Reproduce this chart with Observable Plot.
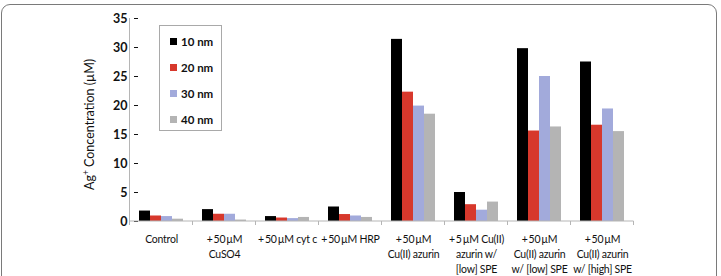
<!DOCTYPE html>
<html>
<head>
<meta charset="utf-8">
<script src="https://cdn.jsdelivr.net/npm/d3@7"></script>
<script src="https://cdn.jsdelivr.net/npm/@observablehq/plot@0.6"></script>
<style>
  html, body { margin: 0; padding: 0; background: #fff; }
  #wrap { position: relative; width: 721px; height: 276px; overflow: hidden; font-family: Lato, "Open Sans", sans-serif; }
  #frame { position: absolute; left: 1px; top: 4px; width: 716px; height: 320px; border: 1.5px solid #7a7a7a; border-radius: 9px; box-sizing: border-box; }
  #chart { position: absolute; left: 0; top: 0; }
  #legend { position: absolute; left: 159px; top: 25px; width: 63px; height: 106px; box-sizing: border-box; border: 1px solid #a9a9a9; background: #fff; }
  .item { position: absolute; left: 10px; font-weight: bold; font-size: 11.5px; color: #111; display: flex; align-items: center; height: 14px; }
  .sw { width: 7px; height: 7px; margin-right: 4px; }
  svg g[aria-label="y-axis tick"] { stroke: #b5b5b5 !important; }
  svg g[aria-label="y-axis tick label"] text, svg g[aria-label="y-axis tick label"] { font-weight: bold !important; font-size: 12.5px !important; fill: #111; }
  svg g[aria-label="text"] text { letter-spacing: -0.25px; }
</style>
</head>
<body>
<div id="wrap">
  <div id="frame"></div>
  <div id="chart"></div>
  <div id="legend"></div>
</div>
<script>
const groups = ["Control", "CuSO4", "cyt c", "HRP", "azurin", "5uM azurin low", "azurin low SPE", "azurin high SPE"];
const groupLabels = [
  "Control",
  "+\u200950\u2009µM\nCuSO4",
  "+\u200950\u2009µM cyt c",
  "+\u200950\u2009µM HRP",
  "+\u200950\u2009µM\nCu(II) azurin",
  "+\u20095\u2009µM Cu(II)\nazurin w/\n[low] SPE",
  "+\u200950\u2009µM\nCu(II) azurin\nw/ [low] SPE",
  "+\u200950\u2009µM\nCu(II) azurin\nw/ [high] SPE"
];
const sizes = ["10 nm", "20 nm", "30 nm", "40 nm"];
const colors = ["#000000", "#d7382c", "#a2aadb", "#b4b4b4"];
const v10 = [1.8, 2.05, 0.85, 2.5, 31.4, 5.0, 29.8, 27.5];
const v20 = [0.95, 1.25, 0.6, 1.2, 22.3, 2.9, 15.6, 16.6];
const v30 = [0.85, 1.25, 0.5, 0.95, 19.9, 1.95, 25.0, 19.4];
const v40 = [0.4, 0.25, 0.7, 0.7, 18.5, 3.35, 16.3, 15.5];
const yTicks = [0, 5, 10, 15, 20, 25, 30, 35];

const series = [v10, v20, v30, v40];
const table = [];
groups.forEach((g, i) => sizes.forEach((s, k) => table.push({group: g, size: s, value: series[k][i]})));

const plot = Plot.plot({
  width: 721,
  height: 276,
  marginLeft: 128,
  marginRight: 86,
  marginTop: 18,
  marginBottom: 55,
  style: {fontFamily: "Lato, 'Open Sans', sans-serif", color: "#111", background: "transparent"},
  fx: {domain: groups, paddingInner: 0.274, paddingOuter: 0.137, axis: null, label: null},
  x: {domain: sizes, padding: 0, axis: null},
  y: {domain: [0, 35], ticks: yTicks, tickSize: 4, tickPadding: 7, label: null},
  color: {domain: sizes, range: colors},
  marks: [
    Plot.barY(table, {fx: "group", x: "size", y: "value", fill: "size"}),
    Plot.text(groups, {
      fx: d => d,
      text: (d, i) => groupLabels[i],
      frameAnchor: "bottom",
      lineAnchor: "top",
      dy: 11,
      lineHeight: 1.42,
      fontSize: 10.5,
      fill: "#111"
    })
  ]
});

const svg = d3.select(plot);

const fx = plot.scale("fx"), y = plot.scale("y");
const step = fx.apply(groups[1]) - fx.apply(groups[0]);
const bw = fx.bandwidth;
const bounds = groups.map(g => fx.apply(g) - (step - bw) / 2);
bounds.push(bounds[bounds.length - 1] + step);
const y0 = y.apply(0), yTop = y.apply(35);
const g = svg.append("g").attr("stroke", "#b5b5b5").attr("stroke-width", 1);
g.append("line").attr("x1", bounds[0]).attr("x2", bounds[0]).attr("y1", y0).attr("y2", yTop);
g.append("line").attr("x1", bounds[0]).attr("x2", bounds[bounds.length - 1]).attr("y1", y0).attr("y2", y0);
g.selectAll("line.sep").data(bounds).join("line").attr("class", "sep")
  .attr("x1", d => d).attr("x2", d => d).attr("y1", y0).attr("y2", y0 + 4);

// y axis title
const ty = svg.append("text")
  .attr("transform", `translate(${bounds[0] - 36},${(y0 + yTop) / 2 + 5}) rotate(-90)`)
  .attr("text-anchor", "middle")
  .attr("font-size", 12.5)
  .attr("fill", "#111")
  .attr("font-family", "Lato, 'Open Sans', sans-serif");
ty.append("tspan").text("Ag");
ty.append("tspan").attr("baseline-shift", "super").attr("font-size", 8.5).text("+");
ty.append("tspan").text(" Concentration (µM)");

document.getElementById("chart").appendChild(plot);

const legend = d3.select("#legend");
sizes.forEach((s, k) => {
  const it = legend.append("div").attr("class", "item").style("top", (8 + k * 26) + "px");
  it.append("div").attr("class", "sw").style("background", colors[k]);
  it.append("span").text(s);
});
</script>
</body>
</html>
